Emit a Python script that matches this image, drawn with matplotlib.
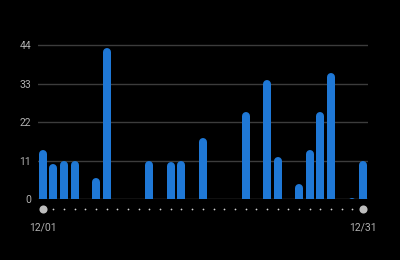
import numpy as np
import matplotlib.pyplot as plt

# daily values for December
days = list(range(1, 32))
values = [14, 10, 11, 11, 0, 6, 43, 0, 0, 0,
          11, 0, 10.5, 11, 0, 17.5, 0, 0, 0, 25,
          0, 34, 12, 0, 4.5, 14, 25, 36, 0, 0.5, 11]
yticks = [0, 11, 22, 33, 44]
date_labels = ["12/01", "12/31"]

BAR_COLOR = "#1f78d6"
GRID_COLOR = "#3c3c3c"
TEXT_COLOR = "#b0b0b0"

plt.rcParams['font.family'] = ['Roboto', 'DejaVu Sans']

fig = plt.figure(figsize=(4, 2.6), dpi=100, facecolor="black")
ax = fig.add_axes([0.095, 0.2335, 0.825, 0.607])
ax.set_facecolor("black")
ax.set_xlim(0.56, 31.47)
ax.set_ylim(0, 45)

# rounded-top bars: thick lines with round caps, clipped at the baseline
bar_px = 8
px_per_unit = (ax.get_position().height * 260) / 45
r = (bar_px / 2) / px_per_unit
for d, v in zip(days, values):
    if v <= 0:
        continue
    ax.plot([d, d], [-5, v - r], color=BAR_COLOR, linewidth=bar_px * 0.72,
            solid_capstyle="round", zorder=3)

for t in yticks:
    ax.axhline(t, color="#555555" if t == 0 else GRID_COLOR, linewidth=1, zorder=1)

ax.set_yticks(yticks)
ax.set_xticks([])
ax.tick_params(axis="y", length=0, pad=5, labelsize=7.5, labelcolor=TEXT_COLOR)
for s in ax.spines.values():
    s.set_visible(False)

# slider-like row of dots under the axis
dot_y = -2.9
ax.scatter(days[1:-1], [dot_y] * (len(days) - 2), s=1.6, color="#d0d0d0",
           clip_on=False, zorder=3, linewidths=0)
ax.scatter([days[0], days[-1]], [dot_y] * 2, s=34, color="#bdbdbd",
           clip_on=False, zorder=4, linewidths=0)

ax.text(days[0], -8, date_labels[0], ha="center", va="center", fontsize=7.5,
        color=TEXT_COLOR, clip_on=False)
ax.text(days[-1], -8, date_labels[1], ha="center", va="center", fontsize=7.5,
        color=TEXT_COLOR, clip_on=False)

plt.savefig("out.png", facecolor="black", dpi=100)
